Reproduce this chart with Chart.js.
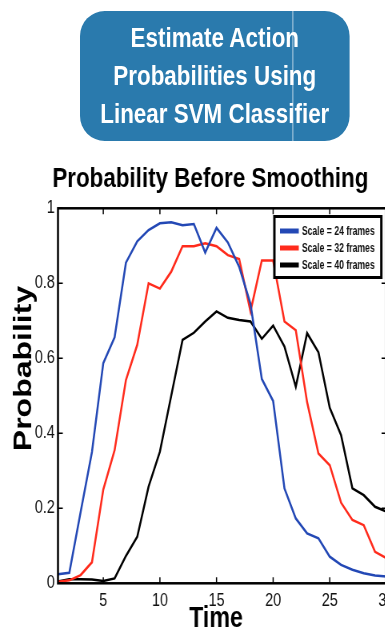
<!DOCTYPE html>
<html>
<head>
<meta charset="utf-8">
<script src="https://cdn.jsdelivr.net/npm/chart.js@4/dist/chart.umd.min.js"></script>
<style>
  html, body { margin: 0; padding: 0; width: 385px; height: 633px; overflow: hidden; background: #fff; }
  #wrap { position: absolute; left: 0; top: 0; width: 500px; height: 633px; transform: scaleX(0.8); transform-origin: 0 0; }
  #banner { position: absolute; left: 100px; top: 11px; width: 337px; height: 130px; border-radius: 31px / 25px;
            background: #2a7aad; color: #fff; font: bold 28px "Liberation Sans", Arial, sans-serif; line-height: 38px;
            text-align: center; display: flex; flex-direction: column; justify-content: center; overflow: hidden; }
  #banner .seam { position: absolute; left: 265px; top: 0; width: 1.5px; height: 100%; background: rgba(255,255,255,0.4); }
  #chart { position: absolute; left: 0; top: 0; }
</style>
</head>
<body>
<div id="wrap">
  <div id="banner"><div class="seam"></div><div>Estimate Action</div><div>Probabilities Using</div><div>Linear SVM Classifier</div></div>
  <canvas id="chart" width="500" height="633"></canvas>
</div>
<script>
// ---- data ----
const frames = [1,2,3,4,5,6,7,8,9,10,11,12,13,14,15,16,17,18,19,20,21,22,23,24,25,26,27,28,29,30];
const scale24 = [0.024,0.028,0.19,0.35,0.587,0.656,0.855,0.912,0.942,0.96,0.963,0.955,0.958,0.882,0.948,0.909,0.844,0.745,0.545,0.486,0.253,0.173,0.133,0.12,0.071,0.049,0.036,0.027,0.021,0.018];
const scale32 = [0.004,0.008,0.022,0.056,0.25,0.355,0.542,0.636,0.8,0.786,0.831,0.899,0.899,0.907,0.899,0.875,0.865,0.725,0.861,0.861,0.698,0.675,0.483,0.346,0.315,0.215,0.169,0.155,0.084,0.067];
const scale40 = [0.005,0.011,0.011,0.01,0.006,0.013,0.073,0.124,0.258,0.351,0.5,0.649,0.668,0.698,0.725,0.708,0.702,0.698,0.652,0.687,0.631,0.524,0.667,0.616,0.468,0.395,0.253,0.235,0.204,0.191];
const seriesLabels = ['Scale = 24 frames', 'Scale = 32 frames', 'Scale = 40 frames'];
const seriesColors = ['#2348b5', '#ff2b1c', '#000000'];
const xTickValues = [5, 10, 15, 20, 25, 30];
const yTickValues = [0, 0.2, 0.4, 0.6, 0.8, 1];
const yTickLabels = ['0', '0.2', '0.4', '0.6', '0.8', '1'];
const chartTitle = 'Probability Before Smoothing';
const xTitle = 'Time';
const yTitle = 'Probability';

const FONT = '"Liberation Sans", Arial, sans-serif';

const matlabFrame = {
  id: 'matlabFrame',
  afterDatasetsDraw(chart) {
    const { ctx, chartArea: a, scales: { x, y } } = chart;
    ctx.save();
    // box and inward ticks
    ctx.strokeStyle = '#000';
    ctx.lineWidth = 2.5;
    ctx.strokeRect(a.left, a.top, a.right - a.left, a.bottom - a.top);
    ctx.lineWidth = 1.5;
    const tl = 6;
    ctx.beginPath();
    x.ticks.forEach(t => {
      const px = x.getPixelForValue(t.value);
      ctx.moveTo(px, a.bottom); ctx.lineTo(px, a.bottom - tl);
      ctx.moveTo(px, a.top); ctx.lineTo(px, a.top + tl);
    });
    y.ticks.forEach(t => {
      const py = y.getPixelForValue(t.value);
      ctx.moveTo(a.left, py); ctx.lineTo(a.left + tl, py);
      ctx.moveTo(a.right, py); ctx.lineTo(a.right - tl, py);
    });
    ctx.stroke();

    // axis titles
    ctx.fillStyle = '#000';
    ctx.textAlign = 'center';
    ctx.textBaseline = 'middle';
    ctx.font = 'bold 29px ' + FONT;
    ctx.fillText(xTitle, a.left + 197.5, a.bottom + 35.7);
    ctx.save();
    ctx.translate(a.left - 42.3, a.top + 160.2);
    ctx.rotate(-Math.PI / 2);
    ctx.font = 'bold 32px ' + FONT;
    ctx.fillText(yTitle, 0, 0);
    ctx.restore();

    // legend box
    const bw = 133.7, bh = 61;
    const bx = a.right - 6.3 - bw, by = a.top + 8.2;
    ctx.fillStyle = '#fff';
    ctx.fillRect(bx, by, bw, bh);
    ctx.lineWidth = 3;
    ctx.strokeStyle = '#000';
    ctx.strokeRect(bx, by, bw, bh);
    chart.data.datasets.forEach((ds, i) => {
      const ry = by + 14.5 + 17 * i;
      ctx.strokeStyle = ds.borderColor;
      ctx.lineWidth = 5;
      ctx.beginPath();
      ctx.moveTo(bx + 7, ry); ctx.lineTo(bx + 30.5, ry);
      ctx.stroke();
      ctx.fillStyle = '#111';
      ctx.font = 'bold 13px "Liberation Sans Narrow", ' + FONT;
      ctx.textAlign = 'left';
      ctx.textBaseline = 'middle';
      const w = ctx.measureText(ds.label).width;
      const maxW = 91;
      ctx.save();
      ctx.translate(bx + 34.4, ry);
      ctx.scale(Math.min(1, maxW / w), 1);
      ctx.fillText(ds.label, 0, 0);
      ctx.restore();
    });
    ctx.restore();
  }
};

const datasets = [scale24, scale32, scale40].map((vals, i) => ({
  label: seriesLabels[i],
  data: frames.map((f, k) => ({ x: f, y: vals[k] })),
  borderColor: seriesColors[i],
  backgroundColor: seriesColors[i],
  borderWidth: 2.5,
  pointRadius: 0,
  tension: 0,
  fill: false
}));

new Chart(document.getElementById('chart'), {
  type: 'line',
  data: { datasets },
  options: {
    responsive: false,
    animation: false,
    devicePixelRatio: 1,
    layout: { padding: { left: 41.5, right: 15.6, top: 162.7, bottom: 0 } },
    plugins: {
      legend: { display: false },
      tooltip: { enabled: false },
      title: {
        display: true, text: chartTitle, color: '#000',
        font: { family: FONT, size: 28, weight: 'bold', lineHeight: 1.2 },
        padding: { top: 0, bottom: 12 }
      }
    },
    scales: {
      x: {
        type: 'linear', min: 1, max: 30,
        grid: { display: false, drawTicks: false },
        border: { display: false },
        ticks: { color: '#111', font: { family: FONT, size: 18 }, padding: 7, maxRotation: 0, autoSkip: false },
        afterBuildTicks: s => { s.ticks = xTickValues.map(v => ({ value: v })); },
        afterFit: s => { s.height = 49.7; }
      },
      y: {
        type: 'linear', min: 0, max: 1,
        grid: { display: false, drawTicks: false },
        border: { display: false },
        ticks: { color: '#111', font: { family: FONT, size: 18 }, padding: 4, callback: (v, i) => yTickLabels[i] },
        afterBuildTicks: s => { s.ticks = yTickValues.map(v => ({ value: v })); },
        afterFit: s => { s.width = 31; }
      }
    }
  },
  plugins: [matlabFrame]
});
</script>
</body>
</html>
